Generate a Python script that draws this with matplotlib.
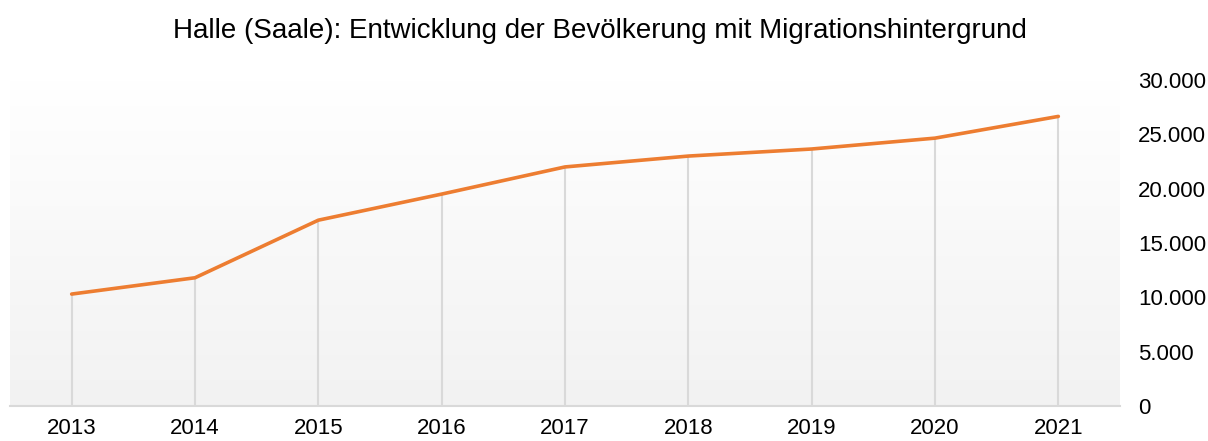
import numpy as np
import matplotlib.pyplot as plt
from matplotlib.ticker import FuncFormatter

# Daten
jahre = [2013, 2014, 2015, 2016, 2017, 2018, 2019, 2020, 2021]
bevoelkerung = [10300, 11800, 17100, 19500, 22000, 23000, 23650, 24650, 26650]
y_ticks = [0, 5000, 10000, 15000, 20000, 25000, 30000]
titel = "Halle (Saale): Entwicklung der Bevölkerung mit Migrationshintergrund"

plt.rcParams['font.family'] = ['Liberation Sans', 'DejaVu Sans']

fig = plt.figure(figsize=(12.08, 4.41), dpi=100)
ax = fig.add_axes([10 / 1208, 35 / 441, 1110 / 1208, 326 / 441])

x_min, x_max = 2012.5, 2021.5
y_min, y_max = 0, 30000

# Hintergrund mit Verlauf (oben weiss, unten hellgrau)
verlauf = np.linspace(1.0, 0.0, 256).reshape(-1, 1)
farbe_oben = np.array([1.0, 1.0, 1.0])
farbe_unten = np.array([0xf2, 0xf2, 0xf2]) / 255
bild = farbe_unten + (farbe_oben - farbe_unten) * verlauf[..., None]
ax.imshow(bild, extent=[x_min, x_max, y_min, y_max], aspect='auto', zorder=0)

# Lotlinien
ax.vlines(jahre, 0, bevoelkerung, color='#d9d9d9', linewidth=1.5, zorder=1)

# Linie
ax.plot(jahre, bevoelkerung, color='#ED7D31', linewidth=2.6, zorder=3,
        solid_capstyle='round', solid_joinstyle='round')

ax.set_xlim(x_min, x_max)
ax.set_ylim(y_min, y_max)

ax.set_xticks(jahre)
ax.set_yticks(y_ticks)
ax.yaxis.tick_right()
ax.yaxis.set_major_formatter(FuncFormatter(lambda v, p: f"{int(v):,}".replace(",", ".")))
ax.tick_params(axis='x', length=0, pad=9, labelsize=16, colors='black')
ax.tick_params(axis='y', length=0, pad=13, labelsize=16, colors='black')
for lbl in ax.get_yticklabels():
    lbl.set_horizontalalignment('left')

for s in ['top', 'left', 'right']:
    ax.spines[s].set_visible(False)
ax.spines['bottom'].set_color('#d9d9d9')
ax.spines['bottom'].set_linewidth(1.5)

fig.text(0.497, 0.93, titel, ha='center', va='center', fontsize=20)

fig.savefig('out.png', dpi=100)
